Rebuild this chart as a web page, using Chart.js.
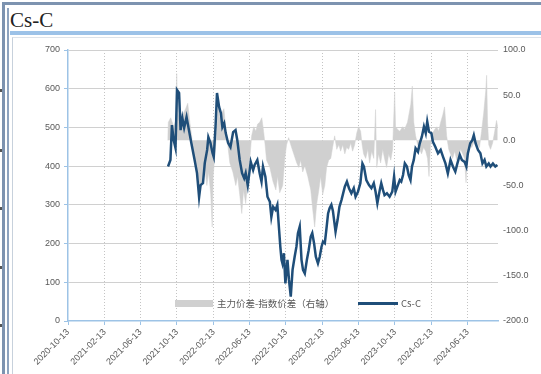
<!DOCTYPE html>
<html><head><meta charset="utf-8">
<script src="https://cdn.jsdelivr.net/npm/chart.js@4.4.1/dist/chart.umd.min.js"></script>
<style>
html,body{margin:0;padding:0;background:#fff;}
body{width:541px;height:374px;position:relative;overflow:hidden;font-family:"Liberation Sans",Arial,sans-serif;}
.a{position:absolute;}
.lg{position:absolute;font-family:"Noto Sans CJK SC","Liberation Sans",sans-serif;font-size:9.5px;color:#595959;line-height:12px;white-space:nowrap;}
</style></head><body>
<div class="a" style="left:2px;top:2px;width:539px;height:3px;background:#7d93b0"></div>
<div class="a" style="left:2px;top:2px;width:3px;height:372px;background:#7d93b0"></div>
<div class="a" style="left:7px;top:8px;width:2px;height:366px;background:#8ea3bf"></div>
<div class="a" style="left:10px;top:8px;font-family:'Liberation Serif',serif;font-size:21px;line-height:24px;color:#222">Cs-C</div>
<div class="a" style="left:10px;top:31px;width:531px;height:4px;background:#9cc2e8"></div>
<div class="a" style="left:12px;top:37px;width:529px;height:337px;border-left:1px solid #c7d1dc;border-top:1px solid #dde3ea;box-sizing:border-box"></div>
<div class="a" style="left:0;top:89px;width:2px;height:3px;background:#555"></div>
<div class="a" style="left:0;top:149px;width:2px;height:3px;background:#555"></div>
<div class="a" style="left:0;top:207px;width:2px;height:3px;background:#555"></div>
<div class="a" style="left:0;top:266px;width:2px;height:3px;background:#555"></div>
<div class="a" style="left:0;top:324px;width:2px;height:3px;background:#555"></div>
<canvas id="c" width="541" height="374" class="a" style="left:0;top:0;width:541px;height:374px"></canvas>
<div class="a" style="left:175px;top:300px;width:38px;height:7px;background:#d0d0d0"></div>
<div class="lg" style="left:217px;top:297px">主力价差-指数价差（右轴）</div>
<div class="a" style="left:358px;top:302px;width:40px;height:2.5px;background:#1f4e79"></div>
<div class="lg" style="left:401px;top:297px">Cs-C</div>
<script>
// Dates are expressed as days after BASE_DATE
const BASE_DATE = '2020-10-13';
const X_MAX_DAY = 1440;

const tickLabels = ['2020-10-13','2021-02-13','2021-06-13','2021-10-13','2022-02-13','2022-06-13',
  '2022-10-13','2023-02-13','2023-06-13','2023-10-13','2024-02-13','2024-06-13'];

const leftTicks = [0,100,200,300,400,500,600,700];
const rightTicks = [-200,-150,-100,-50,0,50,100];

// Cs-C (left axis)
const lineDays = [
335,343,348,354,360,365,372,377,383,389,
397,405,413,424,432,439,444,452,458,466,
470,477,484,488,494,499,506,512,517,523,
528,536,544,553,561,567,575,583,590,595,
602,612,620,625,634,642,648,653,661,668,
676,681,687,695,701,707,711,715,718,723,
728,735,740,746,752,759,765,770,776,782,
787,793,800,806,813,818,824,830,837,843,
849,854,860,865,871,876,882,887,896,903,
909,916,927,934,941,949,957,963,971,979,
986,991,999,1008,1016,1024,1030,1036,1044,1049,
1055,1060,1068,1077,1086,1092,1097,1103,1111,1116,
1122,1128,1135,1141,1147,1152,1158,1164,1172,1178,
1185,1192,1198,1203,1209,1217,1222,1230,1239,1248,
1256,1264,1272,1281,1289,1297,1304,1312,1319,1328,
1334,1339,1347,1354,1359,1365,1373,1381,1388,1395,
1401,1409,1415,1423,1431,1438];
const lineValues = [
399,416,506,467,447,597,589,493,524,499,
527,493,460,416,382,320,351,356,408,442,
475,460,434,424,501,589,553,537,501,511,
486,460,449,488,493,467,416,382,369,382,
350,411,390,403,416,381,360,399,373,321,
308,269,295,287,300,235,192,158,149,175,
97,158,106,63,132,166,192,227,244,158,
132,123,158,183,218,227,201,166,149,166,
192,205,201,235,278,291,300,285,231,262,
295,313,347,360,343,330,343,321,334,356,
407,399,364,351,343,356,334,304,338,356,
338,325,330,321,334,373,334,347,364,360,
377,407,399,377,364,399,416,446,437,459,
476,502,485,515,489,485,463,450,433,442,
424,407,381,416,399,386,407,429,416,411,
399,433,459,467,480,459,442,433,407,416,
399,407,399,407,399,403];

// 主力价差-指数价差 (right axis)
const spreadDays = [
334,336,344,354,361,364,368,374,384,394,
401,408,414,418,428,435,441,451,458,465,
471,478,483,486,491,498,503,508,515,522,
528,535,542,552,562,568,575,582,588,595,
602,609,615,622,629,635,642,649,655,660,
665,676,686,696,702,709,719,726,732,739,
746,756,766,773,779,786,793,803,813,819,
826,833,840,846,853,860,866,873,880,886,
893,900,907,913,920,927,933,940,947,953,
960,967,973,980,985,990,997,1004,1010,1017,
1024,1030,1034,1040,1047,1054,1060,1067,1074,1081,
1087,1094,1097,1104,1111,1121,1127,1137,1148,1153,
1158,1164,1171,1178,1184,1191,1198,1204,1209,1214,
1221,1228,1235,1241,1248,1255,1261,1268,1275,1281,
1288,1295,1302,1308,1315,1322,1328,1333,1338,1345,
1352,1358,1365,1372,1378,1385,1392,1399,1402,1405,
1409,1415,1422,1429,1435,1439];
const spreadValues = [
0,20,25,15,22,74,30,20,28,35,
41,20,5,-10,-25,-40,-55,-45,-30,-50,
-35,-60,-96,-40,-20,10,44,25,30,35,
15,-5,-25,-35,-50,-40,-60,-81,-55,-70,
-45,-20,5,15,10,18,20,25,10,-5,
-22,-30,-45,-55,-40,-58,-50,-20,-5,3,
-5,-15,-25,-30,-22,-35,-28,-40,-55,-75,
-96,-70,-55,-40,-60,-50,-30,-22,-20,-8,
5,-10,-5,-12,-5,-15,-8,-10,-3,-12,
-5,8,15,10,-5,-15,-20,-10,-25,-12,
-20,34,-30,-15,-25,-10,-20,-30,-15,-22,
-10,53,15,12,10,15,12,20,40,60,
20,5,-5,-10,-15,-8,-12,-20,-40,-5,
8,12,15,10,20,28,37,5,-10,-15,
-20,-12,-22,-18,-10,-15,-20,-47,-10,-5,
-8,-3,0,-5,-8,10,30,55,72,20,
-5,-10,-3,10,22,15];

const DAY = 86400000;
const baseMs = Date.parse(BASE_DATE);
const tickDays = tickLabels.map(s => Math.round((Date.parse(s) - baseMs) / DAY));

const linePts = lineDays.map((d, i) => ({x: d, y: lineValues[i]}));
const spreadPts = spreadDays.map((d, i) => ({x: d, y: spreadValues[i]}));

const tickFont = {family: 'Liberation Sans', size: 9};
const tickColor = '#595959';
const axisBlue = '#9dc3e6';

new Chart(document.getElementById('c'), {
  type: 'line',
  data: {
    datasets: [
      {label: 'Cs-C', data: linePts, yAxisID: 'y', borderColor: '#1f4e79', borderWidth: 2.5,
       pointRadius: 0, tension: 0, fill: false},
      {label: '主力价差-指数价差（右轴）', data: spreadPts, yAxisID: 'y1', borderColor: '#d0d0d0',
       borderWidth: 0.5, backgroundColor: '#d0d0d0', pointRadius: 0, tension: 0, fill: 'origin'}
    ]
  },
  options: {
    responsive: false, animation: false, devicePixelRatio: 1,
    layout: {padding: {top: 50, left: 0, right: 0, bottom: 0}},
    plugins: {legend: {display: false}, tooltip: {enabled: false}},
    scales: {
      x: {
        type: 'linear', min: 0, max: X_MAX_DAY,
        afterBuildTicks: s => { s.ticks = tickDays.map(v => ({value: v})); },
        afterFit: s => { s.height = 53; },
        ticks: {autoSkip: false, minRotation: 45, maxRotation: 45, color: tickColor, font: tickFont,
                padding: 2, callback: (v, i) => tickLabels[i]},
        grid: {color: ctx => (ctx.tick && ctx.tick.value === 0) ? 'rgba(0,0,0,0)' : '#c4c4c4',
               lineWidth: 1, tickLength: 4, tickColor: axisBlue},
        border: {color: axisBlue, width: 1.5, dash: [1, 2]}
      },
      y: {
        position: 'left', min: 0, max: 700,
        afterBuildTicks: s => { s.ticks = leftTicks.map(v => ({value: v})); },
        afterFit: s => { s.width = 68; },
        ticks: {color: tickColor, font: tickFont, padding: 4},
        grid: {color: ctx => (ctx.tick && ctx.tick.value === 0) ? 'rgba(0,0,0,0)' : '#d0d0d0',
               lineWidth: 1, tickLength: 4, tickColor: axisBlue},
        border: {color: axisBlue, width: 1.5}
      },
      y1: {
        position: 'right', min: -200, max: 100,
        afterBuildTicks: s => { s.ticks = rightTicks.map(v => ({value: v})); },
        afterFit: s => { s.width = 43; },
        ticks: {color: tickColor, font: tickFont, padding: 5, callback: v => Number(v).toFixed(1)},
        grid: {display: false, drawTicks: false},
        border: {display: false}
      }
    }
  }
});
</script>
</body></html>
